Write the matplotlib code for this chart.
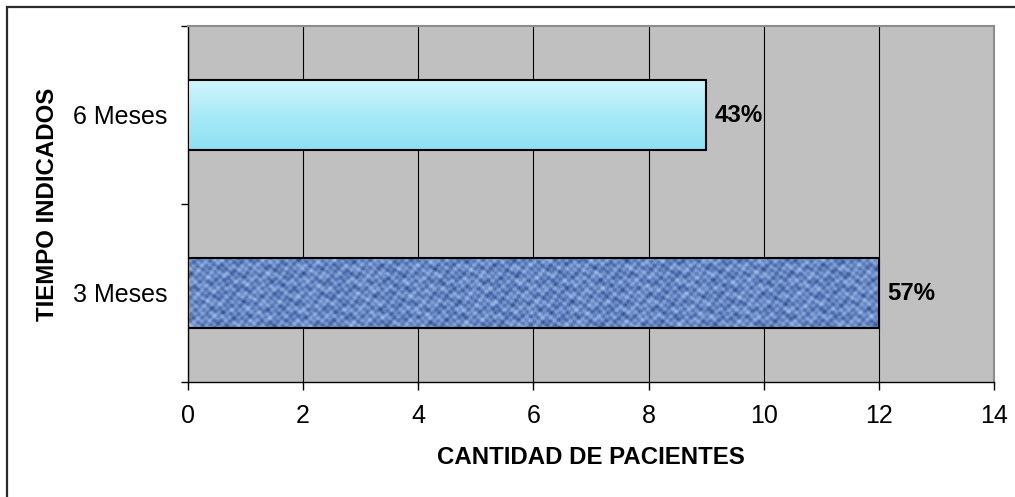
import numpy as np
import matplotlib
matplotlib.use("Agg")
import matplotlib.pyplot as plt
from matplotlib.patches import Rectangle
from matplotlib.colors import LinearSegmentedColormap

plt.rcParams['font.family'] = ['Liberation Sans', 'DejaVu Sans']

categories = ["3 Meses", "6 Meses"]
values = [12, 9]
x_ticks = [0, 2, 4, 6, 8, 10, 12, 14]
x_label = "CANTIDAD DE PACIENTES"
y_label = "TIEMPO INDICADOS"

W, H = 1015, 497
fig = plt.figure(figsize=(W / 100, H / 100), dpi=100)
ax = fig.add_axes([188 / W, 1 - 382 / H, (994 - 188) / W, (382 - 26) / H])
ax.set_facecolor('#c0c0c0')

ypos = np.arange(len(categories))
bars = ax.barh(ypos, values, height=0.39, facecolor='none',
               edgecolor='black', linewidth=1.5, zorder=4)

TICK_FS = 18
BOLD_FS = 17.3

total = sum(values)
for i, (bar, v) in enumerate(zip(bars, values)):
    x0, y0 = bar.get_x(), bar.get_y()
    w, h = bar.get_width(), bar.get_height()
    clip = Rectangle((x0, y0), w, h, transform=ax.transData, facecolor='none', edgecolor='none')
    ax.add_patch(clip)
    if i == 0:
        # denim-like weave (deterministic pattern)
        rows, cols = 35, 345
        ii, jj = np.mgrid[0:rows, 0:cols].astype(float)
        weave = np.sin(jj * 1.57 + 0.9 * np.sin(ii * 0.45)) * np.sin(ii * 1.57 + 0.9 * np.sin(jj * 0.33))
        mott = np.sin(jj * 0.71 + ii * 0.29) * np.cos(ii * 0.83 - jj * 0.17)
        streak = np.sin(jj * 0.23 + 2.0 * np.sin(ii * 0.9))
        pat = 0.5 + 0.28 * weave + 0.15 * mott + 0.1 * streak
        cmap = LinearSegmentedColormap.from_list('denim', ['#1f3a73', '#4d6eae', '#7f9fd6', '#b9d0f4'])
        im = ax.imshow(pat, cmap=cmap, extent=(x0, x0 + w, y0, y0 + h),
                       aspect='auto', interpolation='bilinear', zorder=3, origin='lower')
    else:
        grad = np.linspace(0, 1, 100).reshape(-1, 1)
        cmap = LinearSegmentedColormap.from_list('cyan', ['#8ee0f4', '#a8eaf7', '#cff5fb'])
        im = ax.imshow(grad, cmap=cmap, extent=(x0, x0 + w, y0, y0 + h),
                       aspect='auto', interpolation='bilinear', zorder=3, origin='lower')
    im.set_clip_path(clip)
    pct = f"{round(v / total * 100)}%"
    ax.annotate(pct, xy=(v, ypos[i]), xytext=(6, 0), textcoords='offset points',
                ha='left', va='center', fontsize=BOLD_FS, fontweight='bold', zorder=5)

ax.set_xlim(0, 14)
ax.set_ylim(-0.5, len(categories) - 0.5)
ax.set_xticks(x_ticks)
ax.set_xticklabels([str(t) for t in x_ticks], fontsize=TICK_FS)
ax.set_yticks(np.arange(-0.5, len(categories), 1.0))
ax.set_yticklabels([])
ax.set_yticks(ypos, minor=True)
ax.set_yticklabels(categories, minor=True, fontsize=TICK_FS)
ax.tick_params(axis='y', which='major', direction='out', length=5, width=1, color='black')
ax.tick_params(axis='y', which='minor', length=0, pad=15)
ax.tick_params(axis='x', direction='out', length=6, width=1, pad=10)

ax.xaxis.grid(True, color='black', linewidth=0.8, zorder=1)
ax.set_axisbelow(True)

for s in ['left', 'bottom']:
    ax.spines[s].set_color('black')
    ax.spines[s].set_linewidth(1.0)
for s in ['top', 'right']:
    ax.spines[s].set_color('#8c8c8c')
    ax.spines[s].set_linewidth(1.5)

ax.set_xlabel(x_label, fontsize=BOLD_FS, fontweight='bold', labelpad=13)
ax.set_ylabel(y_label, fontsize=BOLD_FS, fontweight='bold', labelpad=10)

# outer chart border (extends beyond the right and bottom edges)
fig.patches.append(Rectangle((7 / W, -0.1), 2.0, 1 - 7 / H + 0.1, transform=fig.transFigure,
                             facecolor='none', edgecolor='#2a2a2a', linewidth=1.6))

fig.savefig('out.png', dpi=100)
